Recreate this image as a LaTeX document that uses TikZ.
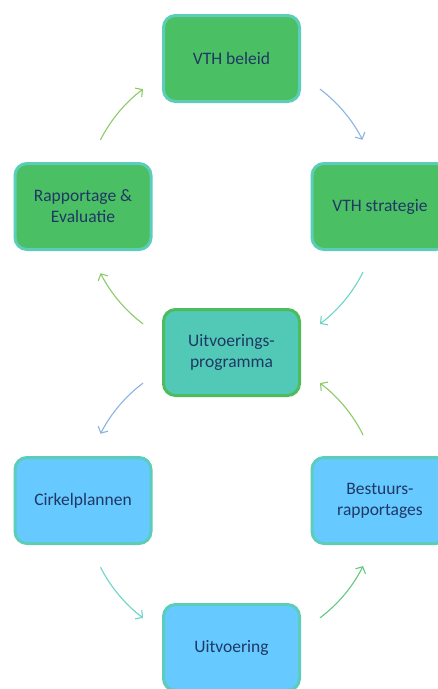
\documentclass[tikz,border=0pt]{standalone}
\usepackage{fontspec}
\setmainfont{Carlito}
\usetikzlibrary{arrows.meta}

\definecolor{navytext}{HTML}{1F3864}
\definecolor{vakgroen}{HTML}{4BBF63}
\definecolor{randteal}{HTML}{5BCDB9}
\definecolor{vakteal}{HTML}{52C9B6}
\definecolor{randgroen}{HTML}{4CBC5C}
\definecolor{vakblauw}{HTML}{66C9FF}
\definecolor{pijlblauw}{HTML}{8AB4E3}
\definecolor{pijlteal}{HTML}{6DD5C5}
\definecolor{pijlgroen}{HTML}{8CCB6A}
\definecolor{pijlgroen2}{HTML}{62C97E}

\begin{document}
\begin{tikzpicture}[x=1pt,y=1pt]
\tikzstyle{every node}+=[inner sep=0pt]
\tikzstyle{stap}=[draw, rounded corners=12, minimum width=136, minimum height=86, line width=3, text=navytext, align=center, font=\fontsize{17.5}{21}\selectfont]
\tikzstyle{pijl}=[line width=1.1, -{Straight Barb[length=5pt,width=11pt]}]
\useasboundingbox (0,0) rectangle (437,-689);
\fill[white] (0,0) rectangle (437,-689);

% bovenste cyclus
\node [stap, fill=vakgroen, draw=randteal] (beleid) at (231.5,-58.5) {VTH beleid};
\node [stap, fill=vakgroen, draw=randteal] (strategie) at (380,-206.5) {VTH strategie};
\node [stap, fill=vakgroen, draw=randteal] (rapportage) at (83,-206.5) {Rapportage \&\\Evaluatie};
\node [stap, fill=vakteal, draw=randgroen] (programma) at (231.5,-352.5) {Uitvoerings-\\programma};

% onderste cyclus
\node [stap, fill=vakblauw, draw=randteal] (cirkel) at (83,-500.5) {Cirkelplannen};
\node [stap, fill=vakblauw, draw=randteal] (bestuur) at (380,-500.5) {Bestuurs-\\rapportages};
\node [stap, fill=vakblauw, draw=randteal] (uitvoering) at (231.5,-647.5) {Uitvoering};

\coordinate (boven) at (beleid |- strategie);
\coordinate (onder) at (uitvoering |- bestuur);

\draw [pijl, pijlblauw] (boven) ++(53:147) arc (53:27:147);
\draw [pijl, pijlteal] (boven) ++(-26.5:147) arc (-26.5:-53:147);
\draw [pijl, pijlgroen] (boven) ++(-127:147) arc (-127:-153:147);
\draw [pijl, pijlgroen] (boven) ++(153:147) arc (153:127:147);

\draw [pijl, pijlgroen] (onder) ++(26.5:147) arc (26.5:53:147);
\draw [pijl, pijlblauw] (onder) ++(127:147) arc (127:153:147);
\draw [pijl, pijlteal] (onder) ++(-153:147) arc (-153:-127:147);
\draw [pijl, pijlgroen2] (onder) ++(-53:147) arc (-53:-26.5:147);
\end{tikzpicture}
\end{document}
